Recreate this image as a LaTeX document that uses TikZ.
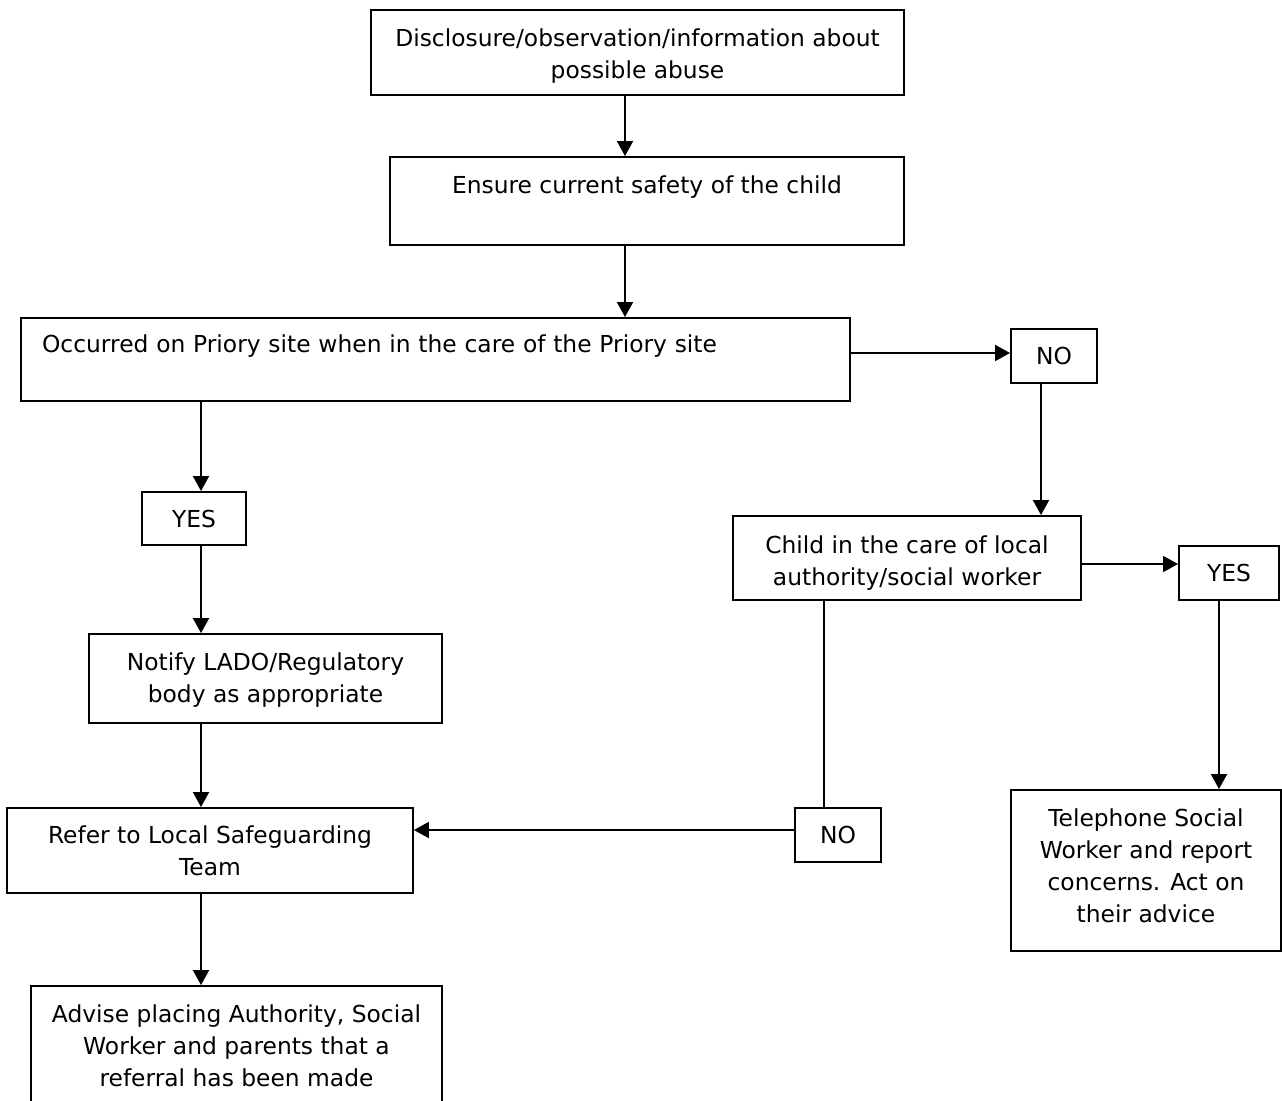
\documentclass[tikz,border=0pt]{standalone}
\usepackage{fontspec}
\setmainfont{DejaVu Sans}
\usepackage{tikz}
\usetikzlibrary{arrows.meta}
\tikzset{
  box/.style={rectangle, draw, line width=1.1pt, align=center, inner sep=0pt,
    font=\fontsize{13.3}{18.2}\selectfont},
  answer/.style={box, minimum width=1.72cm, minimum height=1.08cm},
  upper/.style={execute at end node={\rule[-#1]{0pt}{0pt}}},
  arr/.style={-{Triangle[length=0.3cm, width=0.32cm]}, line width=1.1pt},
  plain/.style={line width=1.1pt},
}
\newcommand{\topgap}[1]{\rule{0pt}{#1}}
\begin{document}
\begin{tikzpicture}[x=0.02cm, y=-0.02cm]
  \clip (0,0) rectangle (1282,1100);
  \node[box, minimum width=10.66cm, minimum height=1.7cm] (disclosure) at (637.5,52.5)
    {\topgap{0.51cm}Disclosure/observation/information about\\possible abuse};
  \node[box, minimum width=10.28cm, minimum height=1.76cm] (safety) at (647,201)
    {Ensure current safety of the child\\\mbox{}};
  \node[box, minimum width=16.58cm, minimum height=1.66cm, align=left, text width=15.74cm] (occurred) at (435.5,359.5)
    {Occurred on Priory site when in the care of the Priory site\\\mbox{}};
  \node[answer] (no1) at (1054,356) {NO};
  \node[answer, minimum width=2.08cm, minimum height=1.06cm] (yes1) at (194,518.5) {YES};
  \node[box, minimum width=6.96cm, minimum height=1.68cm] (child) at (907,558)
    {\topgap{0.55cm}Child in the care of local\\authority/social worker};
  \node[answer, minimum width=2cm] (yes2) at (1229,573) {YES};
  \node[box, minimum width=7.06cm, minimum height=1.78cm] (notify) at (265.5,678.5)
    {\topgap{0.43cm}Notify LADO/Regulatory\\body as appropriate};
  \node[box, minimum width=8.12cm, minimum height=1.7cm] (refer) at (210,850.5)
    {Refer to Local Safeguarding\\Team};
  \node[answer] (no2) at (838,835) {NO};
  \node[box, upper=0.2cm, minimum width=5.4cm, minimum height=3.22cm] (phone) at (1146,870.5)
    {Telephone Social\\Worker and report\\concerns. Act on\\their advice};
  \node[box, upper=0.08cm, minimum width=8.22cm, minimum height=2.48cm] (advise) at (236.5,1048)
    {Advise placing Authority, Social\\Worker and parents that a\\referral has been made};

  \coordinate (spine) at (625,0);
  \coordinate (leftspine) at (201,0);
  \coordinate (midspine) at (1041,0);
  \coordinate (nospine) at (824,0);
  \coordinate (rightspine) at (1219,0);
  \coordinate (rowA) at (0,353);
  \coordinate (rowB) at (0,564);
  \coordinate (rowC) at (0,830);

  \draw[arr] (disclosure.south -| spine) -- (safety.north -| spine);
  \draw[arr] (safety.south -| spine) -- (occurred.north -| spine);
  \draw[arr] (occurred.east |- rowA) -- (no1.west |- rowA);
  \draw[arr] (occurred.south -| leftspine) -- (yes1.north -| leftspine);
  \draw[arr] (yes1.south -| leftspine) -- (notify.north -| leftspine);
  \draw[arr] (notify.south -| leftspine) -- (refer.north -| leftspine);
  \draw[arr] (refer.south -| leftspine) -- (advise.north -| leftspine);
  \draw[arr] (no1.south -| midspine) -- (child.north -| midspine);
  \draw[arr] (child.east |- rowB) -- (yes2.west |- rowB);
  \draw[arr] (yes2.south -| rightspine) -- (phone.north -| rightspine);
  \draw[plain] (child.south -| nospine) -- (no2.north -| nospine);
  \draw[arr] (no2.west |- rowC) -- (refer.east |- rowC);
\end{tikzpicture}
\end{document}
